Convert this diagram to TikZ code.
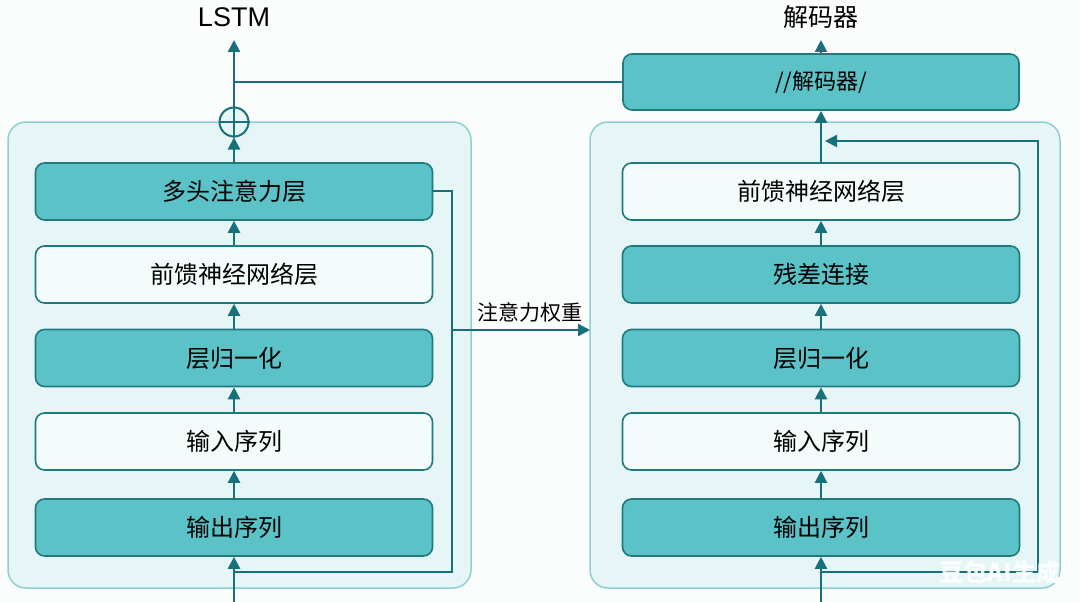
\documentclass[tikz,border=0pt]{standalone}
\usepackage{fontspec}
\setmainfont{Liberation Sans}
\newfontfamily\cjk{Noto Sans CJK SC}
\usetikzlibrary{arrows.meta,calc}
\definecolor{tealfill}{HTML}{5BC2C7}
\definecolor{tealdraw}{HTML}{1F7A80}
\definecolor{linec}{HTML}{18707A}
\definecolor{contfill}{HTML}{E6F6F7}
\definecolor{contdraw}{HTML}{8ECFD1}
\definecolor{whitefill}{HTML}{F4FBFB}
\definecolor{bgc}{HTML}{FBFDFD}
\tikzset{
  container/.style={draw=contdraw,fill=contfill,line width=1.5pt,rounded corners=18pt},
  tealbox/.style={draw=tealdraw,fill=tealfill,line width=1.6pt,rounded corners=9pt,
    minimum width=397pt,minimum height=57pt,font=\cjk\fontsize{24}{27}\selectfont,text=black},
  whitebox/.style={tealbox,fill=whitefill},
  flow/.style={draw=linec,line width=2.3pt,-{Triangle[length=12pt,width=12pt]}},
  plain/.style={draw=linec,line width=2.3pt},
}
\begin{document}
\begin{tikzpicture}[x=1pt,y=-1pt]
\fill[bgc] (0,0) rectangle (1080,602);
\useasboundingbox (0,0) rectangle (1080,602);
% containers
\draw[container] (8,122) rectangle (471,588);
\draw[container] (590,122) rectangle (1060,588);
% left column
\node[tealbox]  (L1) at (234,191.5) {多头注意力层};
\node[whitebox] (L2) at (234,274.5) {前馈神经网络层};
\node[tealbox]  (L3) at (234,358)   {层归一化};
\node[whitebox] (L4) at (234,441.5) {输入序列};
\node[tealbox]  (L5) at (234,527.5) {输出序列};
% right column
\node[whitebox] (R1) at (821,191.5) {前馈神经网络层};
\node[tealbox]  (R2) at (821,274.5) {残差连接};
\node[tealbox]  (R3) at (821,358)   {层归一化};
\node[whitebox] (R4) at (821,441.5) {输入序列};
\node[tealbox]  (R5) at (821,527.5) {输出序列};
% decoder box
\node[tealbox,minimum width=396pt,minimum height=56pt,font=\cjk\fontsize{22}{24}\selectfont] (dec) at (821,82) {//解码器/};
% plus
\node[circle,draw=linec,line width=2pt,fill=contfill,minimum size=29pt,inner sep=0pt] (plus) at (234,122) {};
\draw[linec,line width=2pt] (plus.north) -- (plus.south) (plus.west) -- (plus.east);
% labels
\node[font=\fontsize{27}{30}\selectfont] (lstm) at (234,17) {LSTM};
\node[font=\cjk\fontsize{25}{28}\selectfont] (declab) at (821,17) {解码器};
\coordinate (lstmin) at (234,40);
\coordinate (decin) at (821,40);
\coordinate (lin) at (234,602);
\coordinate (rin) at (821,602);
% left flow
\draw[flow] (lin) -- (L5.south);
\draw[flow] (L5) -- (L4);
\draw[flow] (L4) -- (L3);
\draw[flow] (L3) -- (L2);
\draw[flow] (L2) -- (L1);
\draw[flow] (L1) -- (plus);
\draw[flow] (plus) -- (lstmin);
\draw[plain] (lstmin |- dec.west) -- (dec.west);
% left feedback
\coordinate (lfa) at (452,191);
\coordinate (lfb) at (452,572);
\coordinate (lfc) at (234,572);
\draw[plain] (L1.east |- lfa) -- (lfa) -- (lfb) -- (lfc);
% attention weights arrow
\coordinate (attA) at (452,330);
\coordinate (attB) at (590,330);
\draw[flow] (attA) -- node[above=3pt,xshift=9pt,font=\cjk\fontsize{21}{23}\selectfont,text=black] (attlab) {注意力权重} (attB);
% right flow
\draw[flow] (rin) -- (R5.south);
\draw[flow] (R5) -- (R4);
\draw[flow] (R4) -- (R3);
\draw[flow] (R3) -- (R2);
\draw[flow] (R2) -- (R1);
\draw[flow] (R1) -- (dec);
\draw[flow] (dec) -- (decin);
% right feedback
\coordinate (rfa) at (821,572);
\coordinate (rfb) at (1038,572);
\coordinate (rfc) at (1038,141);
\coordinate (rfd) at (825,141);
\draw[flow] (rfa) -- (rfb) -- (rfc) -- (rfd);
% watermark
\node[font=\cjk\bfseries\fontsize{24}{26}\selectfont,text=white,opacity=0.9] (wm) at (1000,572) {豆包AI生成};
\end{tikzpicture}
\end{document}
